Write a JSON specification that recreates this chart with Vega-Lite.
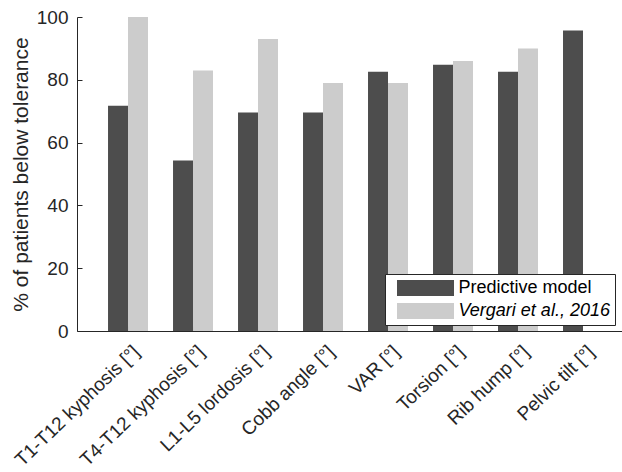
{
  "$schema": "https://vega.github.io/schema/vega-lite/v6.json",
  "width": 545,
  "height": 314,
  "autosize": "none",
  "padding": {"left": 77, "top": 17, "right": 0, "bottom": 141},
  "background": "white",
  "config": {"view": {"stroke": null}, "font": "Liberation Sans"},
  "data": {"values": [
    {"cat": "T1-T12 kyphosis [°]", "model": "Predictive model", "pct": 71.7},
    {"cat": "T1-T12 kyphosis [°]", "model": "Vergari et al., 2016", "pct": 100},
    {"cat": "T4-T12 kyphosis [°]", "model": "Predictive model", "pct": 54.3},
    {"cat": "T4-T12 kyphosis [°]", "model": "Vergari et al., 2016", "pct": 83},
    {"cat": "L1-L5 lordosis [°]", "model": "Predictive model", "pct": 69.6},
    {"cat": "L1-L5 lordosis [°]", "model": "Vergari et al., 2016", "pct": 93},
    {"cat": "Cobb angle [°]", "model": "Predictive model", "pct": 69.6},
    {"cat": "Cobb angle [°]", "model": "Vergari et al., 2016", "pct": 79},
    {"cat": "VAR [°]", "model": "Predictive model", "pct": 82.6},
    {"cat": "VAR [°]", "model": "Vergari et al., 2016", "pct": 79},
    {"cat": "Torsion [°]", "model": "Predictive model", "pct": 84.8},
    {"cat": "Torsion [°]", "model": "Vergari et al., 2016", "pct": 86},
    {"cat": "Rib hump [°]", "model": "Predictive model", "pct": 82.6},
    {"cat": "Rib hump [°]", "model": "Vergari et al., 2016", "pct": 90},
    {"cat": "Pelvic tilt [°]", "model": "Predictive model", "pct": 95.7}
  ]},
  "mark": {"type": "bar"},
  "encoding": {
    "x": {
      "field": "cat", "type": "nominal", "sort": null,
      "scale": {"paddingInner": 0.385, "paddingOuter": 0.385, "align": 0.62},
      "axis": {
        "title": null, "labelAngle": -44, "labelAlign": "right", "labelBaseline": "top",
        "labelFontSize": 19, "labelColor": "#262626", "labelPadding": 16, "labelOffset": 2,
        "tickSize": -5, "tickColor": "#262626", "domainColor": "#262626", "domainWidth": 1
      }
    },
    "xOffset": {
      "field": "model", "type": "nominal",
      "sort": ["Predictive model", "Vergari et al., 2016"],
      "scale": {"paddingInner": 0, "paddingOuter": 0}
    },
    "y": {
      "field": "pct", "type": "quantitative",
      "scale": {"domain": [0, 100], "nice": false},
      "axis": {
        "title": "% of patients below tolerance", "grid": false,
        "values": [0, 20, 40, 60, 80, 100],
        "labelFontSize": 19, "labelColor": "#262626", "labelPadding": 14,
        "tickSize": -5, "tickColor": "#262626", "domainColor": "#262626",
        "titleFontSize": 21, "titleFontWeight": "normal", "titleColor": "#262626", "titlePadding": 5
      }
    },
    "color": {
      "field": "model", "type": "nominal",
      "scale": {"domain": ["Predictive model", "Vergari et al., 2016"], "range": ["#4d4d4d", "#cccccc"]},
      "legend": {
        "orient": "none", "legendX": 308, "legendY": 257, "title": null,
        "fillColor": "white", "strokeColor": "#262626", "padding": 5,
        "symbolType": "M-3.5625,-1L3.5625,-1L3.5625,1L-3.5625,1Z", "symbolSize": 256,
        "symbolOffset": 26.5,
        "symbolStrokeWidth": 0, "labelFontSize": 18, "labelColor": "#000000",
        "labelOffset": 24, "rowPadding": 5,
        "labelFontStyle": {"expr": "datum.label === 'Vergari et al., 2016' ? 'italic' : 'normal'"}
      }
    }
  }
}
